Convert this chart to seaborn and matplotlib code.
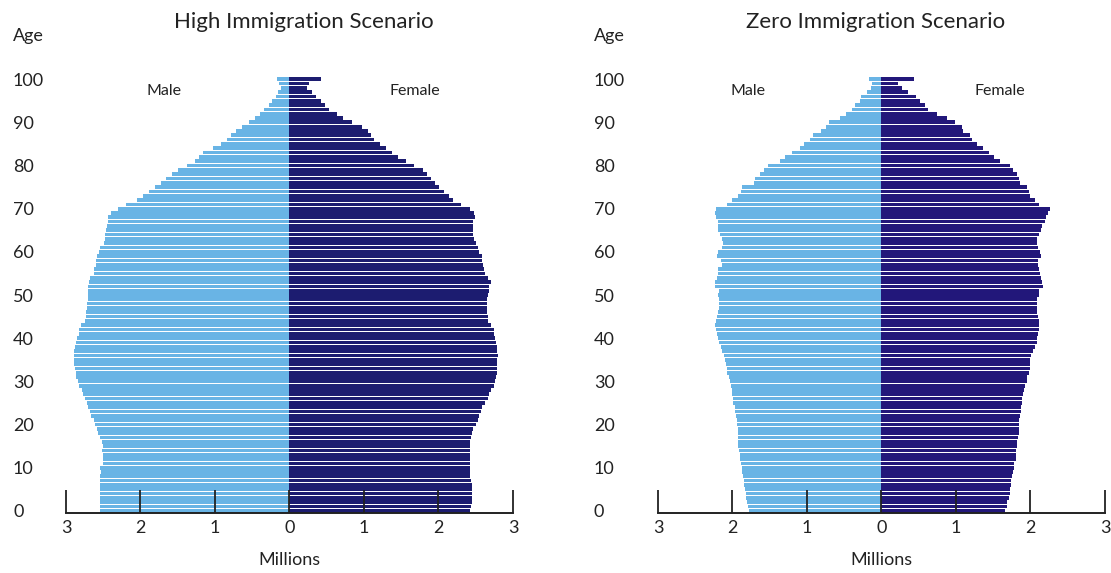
import numpy as np
import pandas as pd
import matplotlib
matplotlib.use('Agg')
import matplotlib.pyplot as plt
import seaborn as sns

# Idades 0..100 (um ano por barra), valores em milhões
ages = list(range(0, 101))

high_male = [2.54, 2.55, 2.55, 2.54, 2.54, 2.54, 2.54, 2.55, 2.54, 2.53,
             2.54, 2.51, 2.51, 2.51, 2.52, 2.51, 2.52, 2.55, 2.57, 2.59,
             2.61, 2.63, 2.66, 2.68, 2.70, 2.72, 2.74, 2.77, 2.79, 2.82,
             2.84, 2.86, 2.87, 2.88, 2.89, 2.89, 2.89, 2.89, 2.88, 2.86,
             2.85, 2.83, 2.82, 2.80, 2.74, 2.73, 2.73, 2.72, 2.72, 2.71,
             2.71, 2.70, 2.70, 2.69, 2.68, 2.63, 2.62, 2.60, 2.60, 2.59,
             2.56, 2.54, 2.49, 2.48, 2.47, 2.46, 2.45, 2.44, 2.43, 2.40,
             2.30, 2.20, 2.05, 1.97, 1.89, 1.80, 1.72, 1.66, 1.58, 1.50,
             1.38, 1.27, 1.22, 1.16, 1.02, 0.92, 0.84, 0.78, 0.72, 0.64,
             0.54, 0.46, 0.40, 0.34, 0.28, 0.24, 0.18, 0.16, 0.11, 0.14,
             0.17]
high_female = [2.42, 2.44, 2.45, 2.45, 2.45, 2.45, 2.45, 2.44, 2.42, 2.42,
               2.42, 2.42, 2.42, 2.42, 2.42, 2.42, 2.43, 2.44, 2.45, 2.47,
               2.51, 2.53, 2.55, 2.57, 2.59, 2.63, 2.66, 2.68, 2.71, 2.74,
               2.76, 2.77, 2.78, 2.78, 2.79, 2.79, 2.80, 2.79, 2.78, 2.77,
               2.76, 2.75, 2.74, 2.71, 2.66, 2.66, 2.65, 2.65, 2.65, 2.65,
               2.67, 2.68, 2.68, 2.70, 2.66, 2.62, 2.61, 2.60, 2.59, 2.58,
               2.55, 2.53, 2.50, 2.48, 2.47, 2.47, 2.47, 2.47, 2.49, 2.48,
               2.43, 2.30, 2.19, 2.14, 2.07, 2.01, 1.96, 1.90, 1.84, 1.79,
               1.67, 1.56, 1.46, 1.38, 1.30, 1.22, 1.14, 1.10, 1.05, 0.98,
               0.84, 0.72, 0.64, 0.53, 0.48, 0.42, 0.36, 0.30, 0.24, 0.26,
               0.42]
zero_male = [1.78, 1.79, 1.80, 1.82, 1.82, 1.83, 1.85, 1.85, 1.86, 1.87,
             1.87, 1.88, 1.90, 1.90, 1.91, 1.92, 1.92, 1.92, 1.93, 1.93,
             1.94, 1.94, 1.95, 1.96, 1.97, 1.99, 1.99, 2.00, 2.01, 2.02,
             2.04, 2.05, 2.07, 2.08, 2.09, 2.10, 2.11, 2.14, 2.15, 2.18,
             2.19, 2.21, 2.22, 2.24, 2.22, 2.21, 2.20, 2.18, 2.18, 2.18,
             2.19, 2.18, 2.23, 2.24, 2.21, 2.20, 2.19, 2.14, 2.15, 2.21,
             2.19, 2.14, 2.13, 2.14, 2.17, 2.19, 2.20, 2.20, 2.22, 2.23,
             2.22, 2.08, 2.01, 1.92, 1.89, 1.87, 1.71, 1.70, 1.63, 1.58,
             1.53, 1.36, 1.29, 1.20, 1.10, 1.04, 0.96, 0.92, 0.81, 0.75,
             0.70, 0.56, 0.48, 0.39, 0.35, 0.29, 0.27, 0.20, 0.14, 0.13,
             0.17]
zero_female = [1.66, 1.68, 1.69, 1.71, 1.72, 1.72, 1.74, 1.74, 1.75, 1.77,
               1.78, 1.78, 1.80, 1.80, 1.81, 1.82, 1.82, 1.83, 1.84, 1.84,
               1.85, 1.85, 1.86, 1.87, 1.87, 1.89, 1.89, 1.90, 1.91, 1.92,
               1.96, 1.96, 1.98, 1.99, 2.00, 2.00, 2.01, 2.04, 2.06, 2.09,
               2.09, 2.10, 2.11, 2.11, 2.11, 2.10, 2.09, 2.09, 2.09, 2.09,
               2.11, 2.12, 2.17, 2.16, 2.14, 2.13, 2.12, 2.10, 2.10, 2.14,
               2.13, 2.10, 2.09, 2.09, 2.12, 2.14, 2.16, 2.19, 2.21, 2.24,
               2.26, 2.12, 2.06, 2.00, 1.98, 1.96, 1.86, 1.84, 1.82, 1.77,
               1.73, 1.59, 1.51, 1.44, 1.36, 1.28, 1.22, 1.19, 1.10, 1.08,
               0.99, 0.88, 0.75, 0.63, 0.59, 0.52, 0.46, 0.36, 0.27, 0.22,
               0.44]

x_ticks = [-3, -2, -1, 0, 1, 2, 3]
x_tick_labels = ['3', '2', '1', '0', '1', '2', '3']
y_ticks = list(range(0, 101, 10))

titles = ['High Immigration Scenario', 'Zero Immigration Scenario']

male_color = '#69b4e5'
female_colors = ['#1c1c70', '#22177a']
text_color = '#222222'

sns.set_theme(style='white')
plt.rcParams['font.family'] = ['Lato', 'DejaVu Sans']

fig = plt.figure(figsize=(11.11, 5.73), dpi=100)

# (dados masculinos, femininos, esquerda do eixo, x do rótulo de idade,
#  x de "Male", x de "Female", x do título) em pixels
panels = [
    (high_male, high_female, 66, 13, 164, 415, 304),
    (zero_male, zero_female, 658, 594, 748, 1000, 876),
]

for i, (male, female, left, age_x, male_x, female_x, title_x) in enumerate(panels):
    ax = fig.add_axes([left / 1111, 0.1047, 0.4023, 0.7609])
    df = pd.DataFrame({'age': ages,
                       'male': [-v for v in male],
                       'female': female})
    sns.barplot(data=df, x='male', y='age', orient='h', native_scale=True,
                color=male_color, saturation=1, width=0.86, linewidth=0,
                ax=ax)
    sns.barplot(data=df, x='female', y='age', orient='h', native_scale=True,
                color=female_colors[i], saturation=1, width=0.86, linewidth=0,
                ax=ax)

    ax.set_xlim(-3, 3)
    ax.set_ylim(-0.5, 100.5)
    ax.set_xticks(x_ticks)
    ax.set_xticklabels(x_tick_labels)
    ax.set_yticks(y_ticks)
    ax.set_yticklabels([str(t) for t in y_ticks])
    ax.set_xlabel('')
    ax.set_ylabel('')

    for s in ['top', 'left', 'right']:
        ax.spines[s].set_visible(False)
    ax.spines['bottom'].set_color(text_color)
    ax.spines['bottom'].set_linewidth(1.4)
    ax.set_axisbelow(False)

    ax.tick_params(axis='x', bottom=True, direction='in', length=16.5,
                   width=1.3, color=text_color, labelsize=13, pad=5,
                   labelcolor=text_color)
    pad_pt = (left - age_x) * 0.72
    ax.tick_params(axis='y', left=True, length=0, labelsize=13, pad=pad_pt,
                   labelcolor=text_color)
    for lab in ax.get_yticklabels():
        lab.set_horizontalalignment('left')

    ax.grid(False)

    # Textos
    ax.text(0.5, -0.108, 'Millions', transform=ax.transAxes, ha='center',
            va='center', fontsize=13, color=text_color)
    fig.text(age_x / 1111, 1 - 36 / 573, 'Age', ha='left', va='center',
             fontsize=13, color=text_color)
    fig.text(male_x / 1111, 1 - 91 / 573, 'Male', ha='center', va='center',
             fontsize=11.5, color=text_color)
    fig.text(female_x / 1111, 1 - 91 / 573, 'Female', ha='center',
             va='center', fontsize=11.5, color=text_color)
    fig.text(title_x / 1111, 1 - 22 / 573, titles[i], ha='center',
             va='center', fontsize=16, color=text_color)

fig.savefig('out.png', dpi=100)
